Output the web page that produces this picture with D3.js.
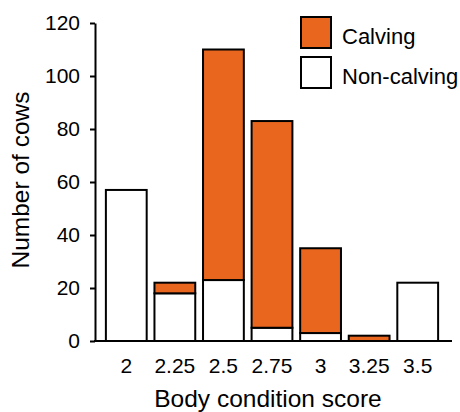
<!DOCTYPE html>
<html>
<head>
<meta charset="UTF-8">
<script src="https://cdn.jsdelivr.net/npm/d3@7"></script>
<style>
body{
    margin:0;
    background-color:#fff;
    font-family:"Liberation Sans", Arial, Helvetica, sans-serif;
}
.axis path, .axis line{
    stroke:#000;
    stroke-width:2;
}
.axis text{
    font-family:"Liberation Sans", Arial, sans-serif;
    font-size:21px;
    fill:#000;
}
</style>
</head>
<body>
<script>

var scores = ["2","2.25","2.5","2.75","3","3.25","3.5"];
var nonCalving = [57, 18, 23, 5, 3, 0, 22];
var calving = [0, 4, 87, 78, 32, 2, 0];
var yTicks = [0, 20, 40, 60, 80, 100, 120];

var width = 460,
    height = 412;

var plot = {left: 95, right: 452, top: 23, bottom: 341};

var rows = scores.map(function(s, i){
    return {score: s, nonCalving: nonCalving[i], calving: calving[i]};
});

var stack = d3.stack().keys(["nonCalving", "calving"])(rows);

var x = d3.scaleBand()
    .domain(scores)
    .range([102, 442])
    .paddingInner(0.16)
    .paddingOuter(0.08);

var y = d3.scaleLinear()
    .domain([0, 120])
    .range([plot.bottom, plot.top]);

var fill = {nonCalving: "#ffffff", calving: "#e9661e"};

var svg = d3.select("body").append("svg")
    .attr("width", width)
    .attr("height", height);

// bars
svg.selectAll(".layer")
    .data(stack)
    .enter().append("g")
    .attr("class", "layer")
    .attr("fill", function(d){ return fill[d.key]; })
    .selectAll("rect")
    .data(function(d){ return d.filter(function(p){ return p[1] - p[0] > 0; }); })
    .enter().append("rect")
    .attr("x", function(d){ return x(d.data.score); })
    .attr("y", function(d){ return y(d[1]); })
    .attr("width", x.bandwidth())
    .attr("height", function(d){ return y(d[0]) - y(d[1]); })
    .attr("stroke", "#000")
    .attr("stroke-width", 2);

// y axis
var gY = svg.append("g")
    .attr("class", "axis")
    .attr("transform", "translate(" + plot.left + ",0)")
    .call(d3.axisLeft(y).tickValues(yTicks).tickSizeInner(5).tickSizeOuter(0).tickPadding(10));

// x axis (line only, labels below)
var gX = svg.append("g")
    .attr("class", "axis")
    .attr("transform", "translate(0," + plot.bottom + ")")
    .call(d3.axisBottom(x).tickSize(0).tickPadding(17));
gX.select(".domain").attr("d", "M" + (plot.left - 1) + ",0H" + plot.right);

svg.append("text")
    .attr("x", 268)
    .attr("y", 407)
    .attr("font-size", 24.5)
    .attr("text-anchor", "middle")
    .text("Body condition score");

svg.append("text")
    .attr("transform", "translate(29,180) rotate(-90)")
    .attr("font-size", 24.5)
    .attr("text-anchor", "middle")
    .text("Number of cows");

// legend
var legend = [
    {key: "calving", label: "Calving"},
    {key: "nonCalving", label: "Non-calving"}
];

var lg = svg.selectAll(".legend")
    .data(legend)
    .enter().append("g")
    .attr("class", "legend")
    .attr("transform", function(d, i){ return "translate(301," + (17 + i * 40) + ")"; });

lg.append("rect")
    .attr("width", 30)
    .attr("height", 31)
    .attr("fill", function(d){ return fill[d.key]; })
    .attr("stroke", "#000")
    .attr("stroke-width", 2);

lg.append("text")
    .attr("x", 41)
    .attr("y", 26.5)
    .attr("font-size", 22)
    .text(function(d){ return d.label; });

</script>
</body>
</html>
